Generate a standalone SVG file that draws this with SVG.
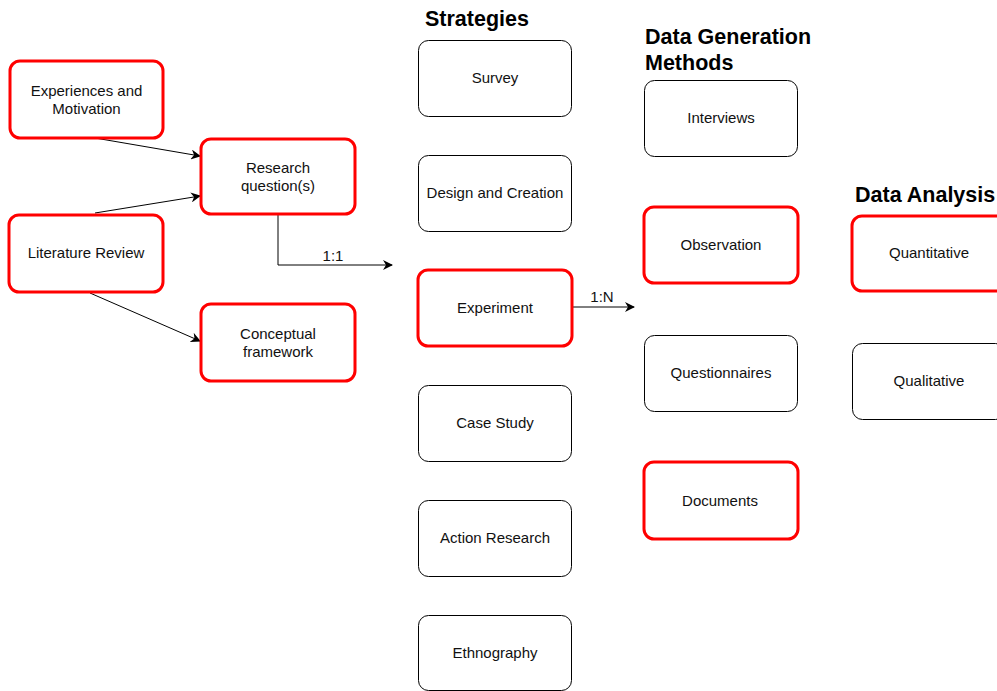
<svg xmlns="http://www.w3.org/2000/svg" width="997" height="691" viewBox="0 0 997 691">
  <defs>
    <marker id="arrow" viewBox="0 0 10 10" refX="9" refY="5" markerWidth="10" markerHeight="10" markerUnits="userSpaceOnUse" orient="auto">
      <path d="M0,0 L10,5 L0,10 L3,5 Z" fill="#000"/>
    </marker>
    <style>
      .box { fill: #fff; stroke: #000; stroke-width: 1; }
      .hl { fill: #fff; stroke: #ff0000; stroke-width: 3; }
      .lbl { font-family: "Liberation Sans", Arial, sans-serif; font-size: 15px; fill: #111; text-anchor: middle; }
      .head { font-family: "Liberation Sans", Arial, sans-serif; font-size: 21.5px; font-weight: bold; fill: #000; }
      .edge { fill: none; stroke: #000; stroke-width: 1; marker-end: url(#arrow); }
    </style>
  </defs>
  <rect width="997" height="691" fill="#fff"/>

  <!-- column headings -->
  <text class="head" x="425" y="26">Strategies</text>
  <text class="head" x="645" y="44">Data Generation</text>
  <text class="head" x="645" y="70">Methods</text>
  <text class="head" x="855" y="202">Data Analysis</text>

  <!-- connectors -->
  <g id="connectors">
    <path class="edge" d="M95,138 L200,156"/>
    <path class="edge" d="M95,213 L200,196"/>
    <path class="edge" d="M90,293 L200,341"/>
    <path class="edge" d="M278,215 L278,265 L392,265"/>
    <path class="edge" d="M572,307 L634,307"/>
    <text class="lbl" x="333" y="261">1:1</text>
    <text class="lbl" x="602" y="302">1:N</text>
  </g>

  <!-- inputs -->
  <g id="experiences"><rect class="hl" x="10" y="61" width="153" height="77" rx="10"/><text class="lbl" x="86.5" y="96">Experiences and</text><text class="lbl" x="86.5" y="114">Motivation</text></g>
  <g id="research-questions"><rect class="hl" x="201" y="139" width="154" height="75" rx="10"/><text class="lbl" x="278" y="173">Research</text><text class="lbl" x="278" y="191">question(s)</text></g>
  <g id="literature-review"><rect class="hl" x="9" y="215" width="154" height="77" rx="10"/><text class="lbl" x="86" y="258">Literature Review</text></g>
  <g id="conceptual-framework"><rect class="hl" x="201" y="304" width="154" height="77" rx="10"/><text class="lbl" x="278" y="339">Conceptual</text><text class="lbl" x="278" y="357">framework</text></g>

  <!-- strategies -->
  <g id="survey"><rect class="box" x="418.5" y="40.5" width="153" height="76" rx="10"/><text class="lbl" x="495" y="83">Survey</text></g>
  <g id="design-creation"><rect class="box" x="418.5" y="155.5" width="153" height="76" rx="10"/><text class="lbl" x="495" y="198">Design and Creation</text></g>
  <g id="experiment"><rect class="hl" x="418" y="270" width="154" height="76" rx="10"/><text class="lbl" x="495" y="313">Experiment</text></g>
  <g id="case-study"><rect class="box" x="418.5" y="385.5" width="153" height="76" rx="10"/><text class="lbl" x="495" y="428">Case Study</text></g>
  <g id="action-research"><rect class="box" x="418.5" y="500.5" width="153" height="76" rx="10"/><text class="lbl" x="495" y="543">Action Research</text></g>
  <g id="ethnography"><rect class="box" x="418.5" y="615.5" width="153" height="75" rx="10"/><text class="lbl" x="495" y="658">Ethnography</text></g>

  <!-- data generation methods -->
  <g id="interviews"><rect class="box" x="644.5" y="80.5" width="153" height="76" rx="10"/><text class="lbl" x="721" y="123">Interviews</text></g>
  <g id="observation"><rect class="hl" x="644" y="207" width="154" height="76" rx="10"/><text class="lbl" x="721" y="250">Observation</text></g>
  <g id="questionnaires"><rect class="box" x="644.5" y="335.5" width="153" height="76" rx="10"/><text class="lbl" x="721" y="378">Questionnaires</text></g>
  <g id="documents"><rect class="hl" x="644" y="462" width="154" height="77" rx="10"/><text class="lbl" x="720" y="506">Documents</text></g>

  <!-- data analysis -->
  <g id="quantitative"><rect class="hl" x="852" y="216" width="154" height="75" rx="10"/><text class="lbl" x="929" y="258">Quantitative</text></g>
  <g id="qualitative"><rect class="box" x="852.5" y="343.5" width="153" height="76" rx="10"/><text class="lbl" x="929" y="386">Qualitative</text></g>
</svg>
